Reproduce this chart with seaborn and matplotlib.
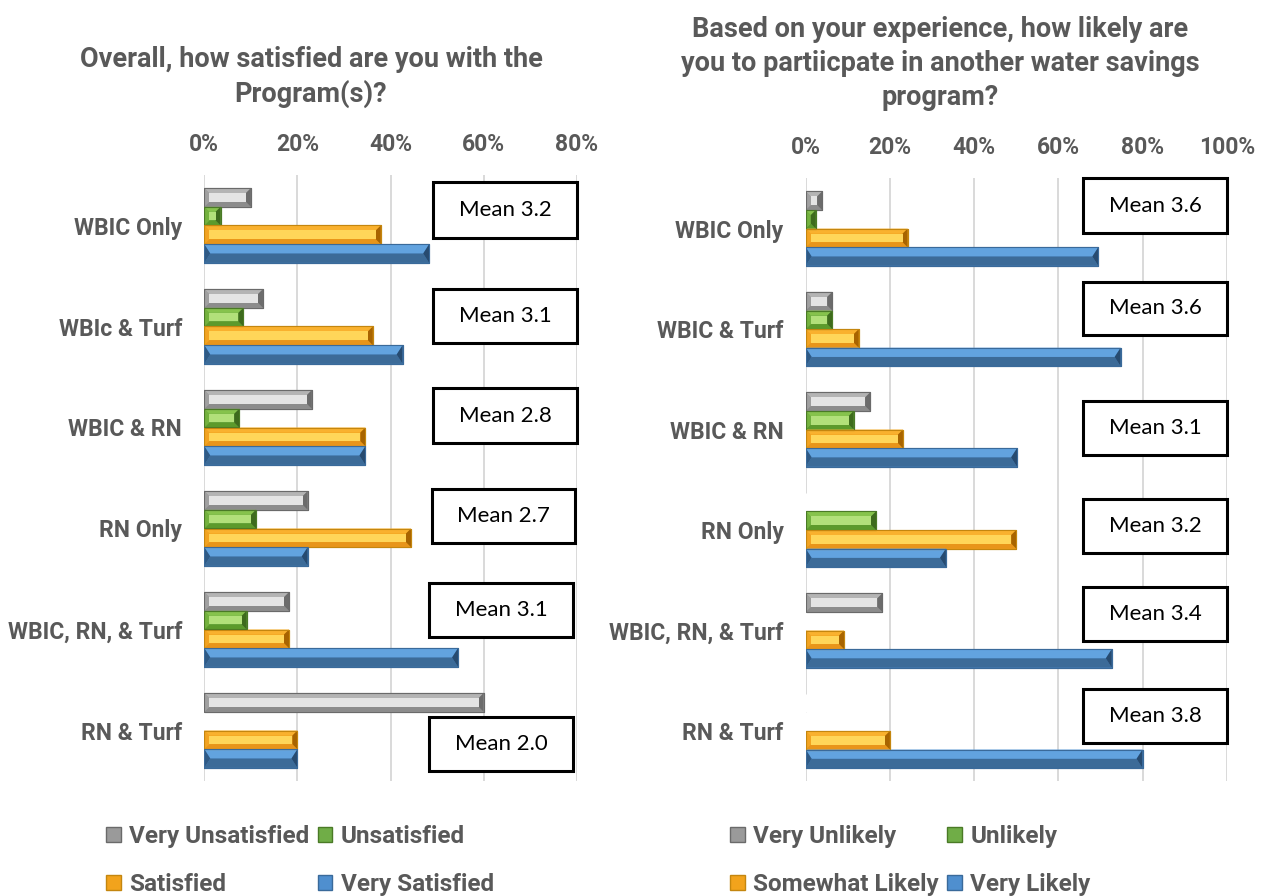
import matplotlib
matplotlib.use("Agg")
import matplotlib.pyplot as plt
from matplotlib.patches import Polygon, Rectangle, Patch
from matplotlib.ticker import FuncFormatter
import seaborn as sns
import pandas as pd

# ---- data -------------------------------------------------------------
groups = ["WBIC Only", "WBIc & Turf", "WBIC & RN", "RN Only",
          "WBIC, RN, & Turf", "RN & Turf"]
groups_r = ["WBIC Only", "WBIC & Turf", "WBIC & RN", "RN Only",
            "WBIC, RN, & Turf", "RN & Turf"]

sat_levels = ["Very Unsatisfied", "Unsatisfied", "Satisfied", "Very Satisfied"]
very_unsatisfied = [10.0, 12.6, 23.1, 22.2, 18.2, 60.0]
unsatisfied = [3.5, 8.4, 7.5, 11.1, 9.1, 0.0]
satisfied = [37.9, 36.2, 34.6, 44.4, 18.2, 20.0]
very_satisfied = [48.3, 42.6, 34.6, 22.2, 54.5, 20.0]
sat_means = ["3.2", "3.1", "2.8", "2.7", "3.1", "2.0"]

like_levels = ["Very Unlikely", "Unlikely", "Somewhat Likely", "Very Likely"]
very_unlikely = [3.9, 6.3, 15.3, 0.0, 18.2, 0.0]
unlikely = [2.4, 6.3, 11.4, 16.7, 0.0, 0.0]
somewhat_likely = [24.2, 12.6, 23.1, 50.0, 9.1, 20.0]
very_likely = [69.5, 74.8, 50.2, 33.3, 72.7, 80.0]
like_means = ["3.6", "3.6", "3.1", "3.2", "3.4", "3.8"]

sat_ticks = [0, 20, 40, 60, 80]
like_ticks = [0, 20, 40, 60, 80, 100]

title_left = "Overall, how satisfied are you with the\nProgram(s)?"
title_right = ("Based on your experience, how likely are\n"
               "you to partiicpate in another water savings\nprogram?")

# ---- styling ----------------------------------------------------------
TEXT = "#595959"
BOLD_FONT = ["Roboto", "DejaVu Sans"]
BODY_FONT = ["Lato", "DejaVu Sans"]
sns.set_theme(style="white")
plt.rcParams["font.family"] = BOLD_FONT

# bevel colours per series: base, face, top, bottom, left, right, edge
BEVEL = [
    dict(base="#9a9a9a", face="#e4e4e4", top="#b4b4b4", bottom="#8c8c8c",
         left="#a0a0a0", right="#6c6c6c", edge="#6a6a6a", pyramid=False),
    dict(base="#70ad47", face="#b2e07a", top="#86c34c", bottom="#5c9a2c",
         left="#74b23e", right="#3e6b1d", edge="#4a7a26", pyramid=False),
    dict(base="#f2a31c", face="#ffd659", top="#f9b12e", bottom="#e8951a",
         left="#f2a322", right="#a86400", edge="#c4860f", pyramid=False),
    dict(base="#4f8fcf", face="#5b9bd5", top="#62a3df", bottom="#3c6b98",
         left="#2f5a85", right="#274b70", edge="#3a6a9a", pyramid=True),
]
palette = [b["base"] for b in BEVEL]

W, H = 1264, 896
fig = plt.figure(figsize=(W / 100, H / 100), dpi=100)


def fx(px):
    return px / W


def fy(py):
    return 1 - py / H


axL = fig.add_axes([fx(204.3), fy(781), (576.7 - 204.3) / W, (781 - 175) / H])
axR = fig.add_axes([fx(805.7), fy(781.2), (1226.7 - 805.7) / W, (781.2 - 178.4) / H])


def long_frame(cats, levels, series):
    rows = []
    for lvl, vals in zip(levels, series):
        for c, v in zip(cats, vals):
            rows.append({"group": c, "response": lvl, "pct": v})
    return pd.DataFrame(rows)


def add_bevels(ax):
    xr = ax.get_xlim()
    yr = ax.get_ylim()
    ppx = ax.bbox.width / (xr[1] - xr[0])
    ppy = ax.bbox.height / abs(yr[1] - yr[0])
    for container, st in zip(ax.containers, BEVEL):
        for bar in container:
            w = bar.get_width()
            if w <= 0:
                continue
            x0, y0, h = bar.get_x(), bar.get_y(), bar.get_height()
            x1, y1 = x0 + w, y0 + h
            bar.set_facecolor(st["base"])
            bar.set_edgecolor(st["edge"])
            bar.set_linewidth(0.8)
            if st["pyramid"]:
                dx = min(6 / ppx, w / 2)
                ym = (y0 + y1) / 2
                polys = [
                    ([(x0, y0), (x1, y0), (x1 - dx, ym), (x0 + dx, ym)], st["top"]),
                    ([(x0, y1), (x1, y1), (x1 - dx, ym), (x0 + dx, ym)], st["bottom"]),
                    ([(x0, y0), (x0 + dx, ym), (x0, y1)], st["left"]),
                    ([(x1, y0), (x1 - dx, ym), (x1, y1)], st["right"]),
                ]
            else:
                dx = min(5 / ppx, w / 2)
                dy = min(5 / ppy, h / 2)
                polys = [
                    ([(x0, y0), (x1, y0), (x1 - dx, y0 + dy), (x0 + dx, y0 + dy)], st["top"]),
                    ([(x0, y1), (x1, y1), (x1 - dx, y1 - dy), (x0 + dx, y1 - dy)], st["bottom"]),
                    ([(x0, y0), (x0 + dx, y0 + dy), (x0 + dx, y1 - dy), (x0, y1)], st["left"]),
                    ([(x1, y0), (x1 - dx, y0 + dy), (x1 - dx, y1 - dy), (x1, y1)], st["right"]),
                    ([(x0 + dx, y0 + dy), (x1 - dx, y0 + dy), (x1 - dx, y1 - dy),
                      (x0 + dx, y1 - dy)], st["face"]),
                ]
            for pts, col in polys:
                ax.add_patch(Polygon(pts, closed=True, facecolor=col,
                                     edgecolor="none", zorder=bar.get_zorder() + 0.1))
            ax.add_patch(Rectangle((x0, y0), w, h, fill=False, edgecolor=st["edge"],
                                   linewidth=0.8, zorder=bar.get_zorder() + 0.2))


def draw_panel(ax, cats, levels, series, ticks):
    df = long_frame(cats, levels, series)
    sns.barplot(data=df, x="pct", y="group", hue="response", order=cats,
                hue_order=levels, palette=palette, orient="h", width=0.74,
                saturation=1, legend=False, ax=ax, errorbar=None)
    ax.set_xlim(ticks[0], ticks[-1])
    ax.set_ylim(len(cats) - 0.5, -0.5)
    ax.set_xticks(ticks)
    ax.xaxis.set_major_formatter(FuncFormatter(lambda v, _: f"{v:.0f}%"))
    ax.xaxis.tick_top()
    ax.tick_params(axis="x", length=0, pad=14, labelsize=16.5, labelcolor=TEXT)
    ax.tick_params(axis="y", length=0, pad=16, labelsize=16.5, labelcolor=TEXT)
    for lab in ax.get_xticklabels() + ax.get_yticklabels():
        lab.set_fontweight("bold")
    ax.set_xlabel("")
    ax.set_ylabel("")
    for s in ax.spines.values():
        s.set_visible(False)
    ax.grid(axis="x", color="#d9d9d9", linewidth=1.4)
    ax.grid(axis="y", visible=False)
    ax.set_axisbelow(True)
    add_bevels(ax)


draw_panel(axL, groups, sat_levels,
           [very_unsatisfied, unsatisfied, satisfied, very_satisfied], sat_ticks)
draw_panel(axR, groups_r, like_levels,
           [very_unlikely, unlikely, somewhat_likely, very_likely], like_ticks)

# ---- mean call-out boxes (pixel layout: x0, x1, y0, y1) --------------
boxes_left = [(433, 577, 182, 238), (433, 577, 289, 343), (433, 577, 388, 443),
              (432, 575, 489, 543), (429, 573, 583, 637), (429, 573, 717, 771)]
boxes_right = [(1083, 1227, 178, 233), (1083, 1227, 282, 335), (1083, 1227, 401, 455),
               (1083, 1227, 499, 553), (1083, 1227, 587, 641), (1083, 1227, 689, 743)]

for boxes, means in ((boxes_left, sat_means), (boxes_right, like_means)):
    for (x0, x1, y0, y1), m in zip(boxes, means):
        fig.patches.append(Rectangle((fx(x0), fy(y1)), (x1 - x0) / W, (y1 - y0) / H,
                                     transform=fig.transFigure, facecolor="white",
                                     edgecolor="black", linewidth=2.2, zorder=5))
        fig.text(fx((x0 + x1) / 2), fy((y0 + y1) / 2), f"Mean {m}", ha="center",
                 va="center", fontsize=16, color="black", zorder=6,
                 family=BODY_FONT)

# ---- titles ------------------------------------------------------------
fig.text(fx(311), fy(77), title_left, ha="center", va="center", fontsize=19.5,
         fontweight="bold", color=TEXT, linespacing=1.3)
fig.text(fx(940), fy(63.5), title_right, ha="center", va="center", fontsize=19.5,
         fontweight="bold", color=TEXT, linespacing=1.32)

# ---- legends -----------------------------------------------------------
def legend_for(levels, anchor):
    handles = [Patch(facecolor=b["base"], edgecolor=b["edge"], linewidth=1.0)
               for b in BEVEL]
    order = [0, 2, 1, 3]
    fig.legend([handles[i] for i in order], [levels[i] for i in order],
               loc="upper left", bbox_to_anchor=anchor, ncol=2, frameon=False,
               handlelength=0.6, handleheight=0.6, handletextpad=0.35,
               columnspacing=0.35, labelspacing=1.02, borderaxespad=0,
               borderpad=0, prop={"family": BOLD_FONT, "weight": "bold", "size": 17.5},
               labelcolor=TEXT)


legend_for(sat_levels, (fx(106), fy(825)))
legend_for(like_levels, (fx(730), fy(825)))

fig.savefig("out.png", dpi=100, facecolor="white")
